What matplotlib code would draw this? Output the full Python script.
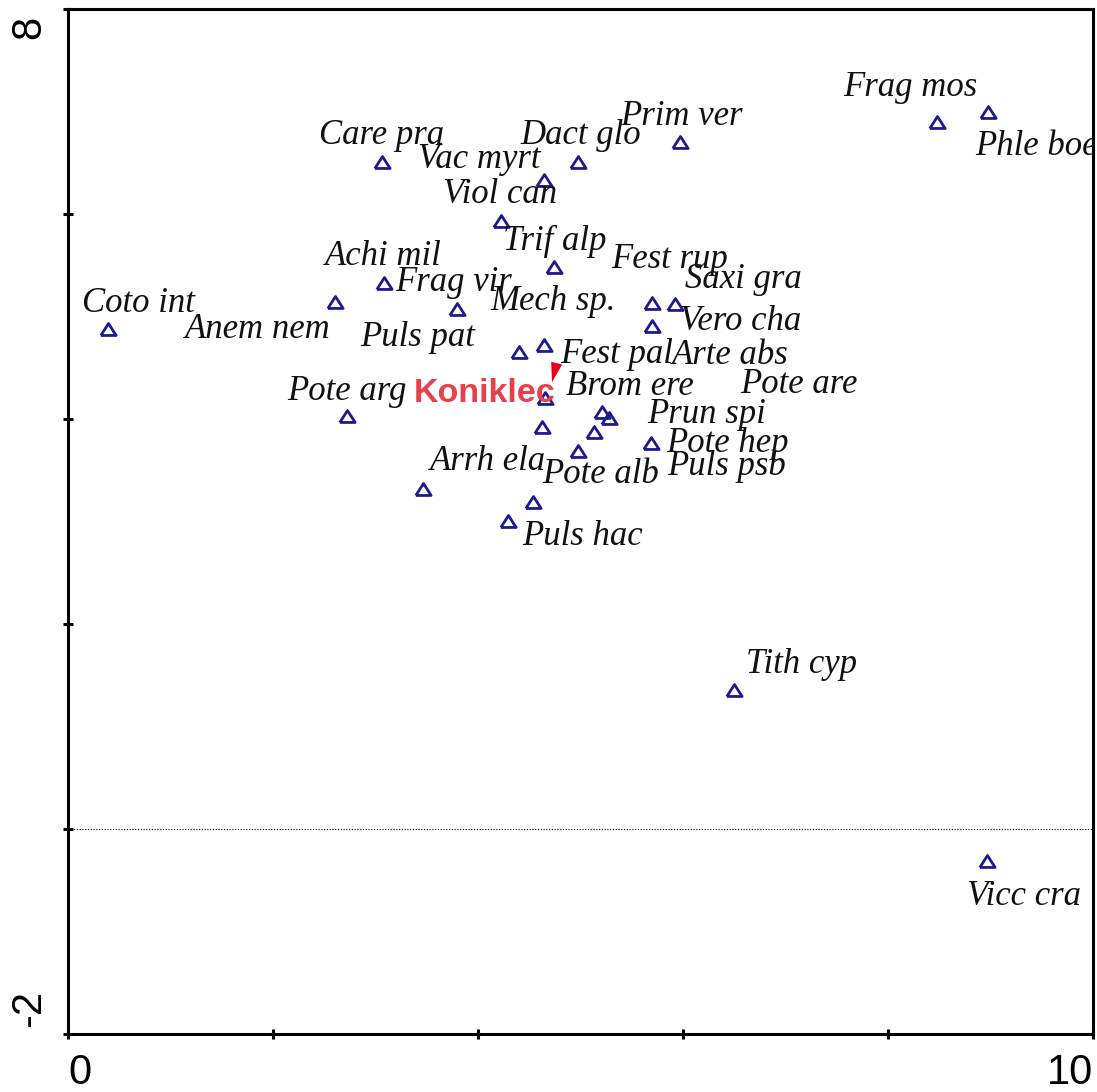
import matplotlib
matplotlib.use("Agg")
import matplotlib.pyplot as plt
import matplotlib.transforms as mtransforms
import numpy as np

# Species scores (axis 1, axis 2)
species = ["Coto int", "Anem nem", "Care pra", "Achi mil", "Frag vir", "Vac myrt",
           "Dact glo", "Prim ver", "Viol can", "Trif alp", "Fest rup", "Saxi gra",
           "Vero cha", "Mech sp.", "Puls pat", "Fest pal", "Arte abs", "Pote are",
           "Brom ere", "Prun spi", "Pote hep", "Puls psb", "Pote arg", "Arrh ela",
           "Pote alb", "Puls hac", "Tith cyp", "Vicc cra", "Frag mos", "Phle boe"]
ax1 = [0.39, 2.60, 3.06, 3.08, 3.79, 4.64, 4.98, 5.97, 4.22, 4.74, 5.70, 5.92,
       5.70, 4.64, 4.40, 4.65, 5.21, 5.28, 5.13, 4.62, 5.69, 4.98, 2.72, 3.46,
       4.54, 4.29, 6.50, 8.97, 8.48, 8.98]
ax2 = [4.88, 5.14, 6.51, 5.33, 5.07, 6.33, 6.51, 6.70, 5.93, 5.48, 5.13, 5.12,
       4.91, 4.72, 4.65, 4.20, 4.07, 4.01, 3.87, 3.92, 3.77, 3.69, 4.03, 3.32,
       3.19, 3.00, 1.36, -0.31, 6.90, 6.99]

# label anchor positions (left, baseline), data units
lab_x = [0.14, 1.14, 2.45, 2.51, 3.19, 3.41, 4.41, 5.39, 3.66, 4.24, 5.30, 6.02,
         5.97, 4.12, 2.85, 4.80, 5.89, 6.56, 4.86, 5.65, 5.84, 5.85, 2.14, 3.53,
         4.63, 4.43, 6.61, 8.77, 7.56, 8.85]
lab_y = [5.04, 4.79, 6.68, 5.50, 5.25, 6.45, 6.68, 6.87, 6.11, 5.65, 5.47, 5.28,
         4.87, 5.06, 4.71, 4.55, 4.54, 4.25, 4.23, 3.96, 3.68, 3.45, 4.19, 3.50,
         3.38, 2.77, 1.52, -0.74, 7.15, 6.58]

# supplementary variable
supp_name = "Koniklec"
supp_tail = (4.766, 4.54)
supp_tip = (4.722, 4.36)
supp_lab = (3.37, 4.17)

fig = plt.figure(figsize=(10.97, 10.92), dpi=100)
ax = fig.add_axes([0.062, 0.0531, 0.9344, 0.9387])

tri = [(-1, -0.78), (1, -0.78), (0, 0.78), (-1, -0.78)]
ax.plot(ax1, ax2, linestyle="none", marker=tri, markersize=11,
        markerfacecolor="none", markeredgecolor="#1c1a8c", markeredgewidth=2.0)

for name, lx, ly in zip(species, lab_x, lab_y):
    ax.text(lx, ly, name, family="Liberation Serif", style="italic", fontsize=25,
            ha="left", va="baseline", color="#111111", clip_on=True)

ax.axhline(0, color="black", lw=0.8, linestyle=(0, (1, 1.5)))

ax.arrow(supp_tail[0], supp_tail[1], supp_tip[0] - supp_tail[0], supp_tip[1] - supp_tail[1],
         width=0.0, head_width=0.11, head_length=0.19, length_includes_head=True,
         color="#e2001a", lw=0)
ax.text(supp_lab[0], supp_lab[1], supp_name, family="Liberation Sans", weight="bold",
        fontsize=24.5, color="#e8414b", ha="left", va="baseline")

ax.set_xlim(0, 10)
ax.set_ylim(-2, 8)
ax.set_xticks([0, 2, 4, 6, 8, 10])
ax.set_xticklabels(["0", "", "", "", "", "10"])
ax.set_yticks([-2, 0, 2, 4, 6, 8])
ax.set_yticklabels(["-2", "", "", "", "", "8"], rotation=90)

for s in ax.spines.values():
    s.set_linewidth(2.2)
ax.tick_params(direction="inout", length=7, width=2.2, labelsize=30)
ax.tick_params(axis="x", pad=10)
ax.tick_params(axis="y", pad=10)
for t in ax.get_xticklabels() + ax.get_yticklabels():
    t.set_family("Liberation Sans")
xl = ax.get_xticklabels()
xl[0].set_ha("left")
xl[-1].set_ha("right")
yl = ax.get_yticklabels()
yl[0].set_va("bottom")
yl[-1].set_va("top")
yl[0].set_transform(yl[0].get_transform() +
                    mtransforms.ScaledTranslation(0, 7 / 100, fig.dpi_scale_trans))
yl[-1].set_transform(yl[-1].get_transform() +
                     mtransforms.ScaledTranslation(0, -7 / 100, fig.dpi_scale_trans))

fig.savefig("out.png", dpi=100)
